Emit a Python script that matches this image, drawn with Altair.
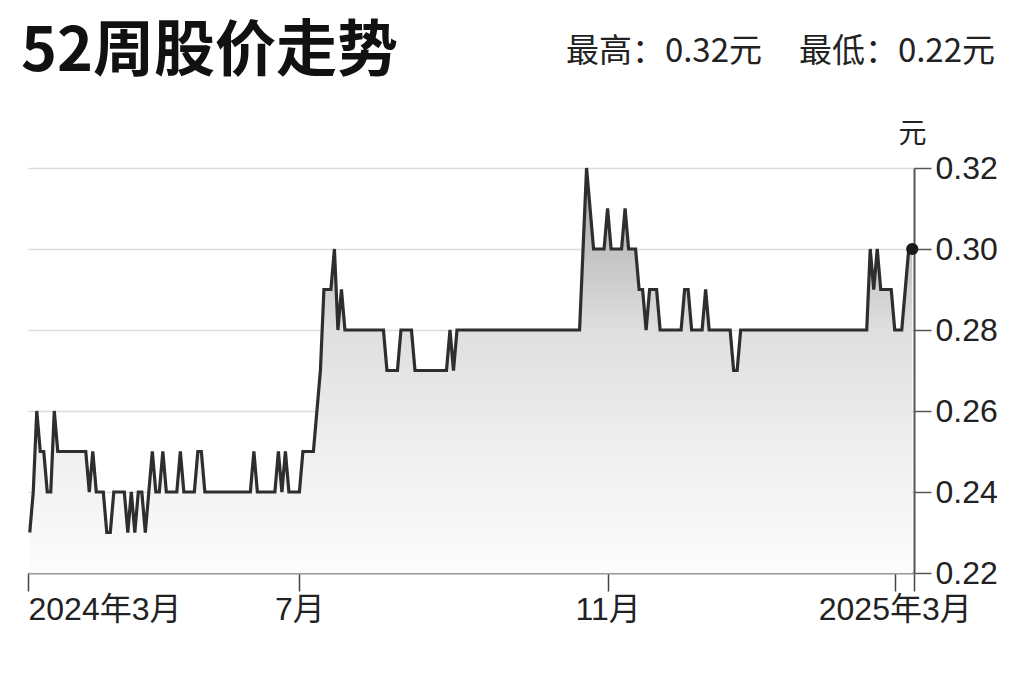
import altair as alt
import pandas as pd

# daily closing prices (yuan)
prices = [
    0.23, 0.24, 0.26, 0.25, 0.25, 0.24, 0.24, 0.26, 0.25, 0.25,
    0.25, 0.25, 0.25, 0.25, 0.25, 0.25, 0.25, 0.24, 0.25, 0.24,
    0.24, 0.24, 0.23, 0.23, 0.24, 0.24, 0.24, 0.24, 0.23, 0.24,
    0.23, 0.24, 0.24, 0.23, 0.24, 0.25, 0.24, 0.24, 0.25, 0.24,
    0.24, 0.24, 0.24, 0.25, 0.24, 0.24, 0.24, 0.24, 0.25, 0.25,
    0.24, 0.24, 0.24, 0.24, 0.24, 0.24, 0.24, 0.24, 0.24, 0.24,
    0.24, 0.24, 0.24, 0.24, 0.25, 0.24, 0.24, 0.24, 0.24, 0.24,
    0.24, 0.25, 0.24, 0.25, 0.24, 0.24, 0.24, 0.24, 0.25, 0.25,
    0.25, 0.25, 0.26, 0.27, 0.29, 0.29, 0.29, 0.30, 0.28, 0.29,
    0.28, 0.28, 0.28, 0.28, 0.28, 0.28, 0.28, 0.28, 0.28, 0.28,
    0.28, 0.28, 0.27, 0.27, 0.27, 0.27, 0.28, 0.28, 0.28, 0.28,
    0.27, 0.27, 0.27, 0.27, 0.27, 0.27, 0.27, 0.27, 0.27, 0.27,
    0.28, 0.27, 0.28, 0.28, 0.28, 0.28, 0.28, 0.28, 0.28, 0.28,
    0.28, 0.28, 0.28, 0.28, 0.28, 0.28, 0.28, 0.28, 0.28, 0.28,
    0.28, 0.28, 0.28, 0.28, 0.28, 0.28, 0.28, 0.28, 0.28, 0.28,
    0.28, 0.28, 0.28, 0.28, 0.28, 0.28, 0.28, 0.28, 0.30, 0.32,
    0.31, 0.30, 0.30, 0.30, 0.30, 0.31, 0.30, 0.30, 0.30, 0.30,
    0.31, 0.30, 0.30, 0.30, 0.29, 0.29, 0.28, 0.29, 0.29, 0.29,
    0.28, 0.28, 0.28, 0.28, 0.28, 0.28, 0.28, 0.29, 0.29, 0.28,
    0.28, 0.28, 0.28, 0.29, 0.28, 0.28, 0.28, 0.28, 0.28, 0.28,
    0.28, 0.27, 0.27, 0.28, 0.28, 0.28, 0.28, 0.28, 0.28, 0.28,
    0.28, 0.28, 0.28, 0.28, 0.28, 0.28, 0.28, 0.28, 0.28, 0.28,
    0.28, 0.28, 0.28, 0.28, 0.28, 0.28, 0.28, 0.28, 0.28, 0.28,
    0.28, 0.28, 0.28, 0.28, 0.28, 0.28, 0.28, 0.28, 0.28, 0.28,
    0.30, 0.29, 0.30, 0.29, 0.29, 0.29, 0.29, 0.28, 0.28, 0.28,
    0.29, 0.30, 0.30,
]

# x-axis ticks (trading-day index) and their labels
tick_idx = [-0.5, 77, 165, 247, 252.5]
tick_labels = ["2024年3月", "7月", "11月", "2025年3月", ""]
y_ticks = [0.22, 0.24, 0.26, 0.28, 0.30, 0.32]

title_text = "52周股价走势"
high_price = 0.32
low_price = 0.22
unit = "元"

df = pd.DataFrame({"idx": list(range(len(prices))), "price": prices})
last = df.iloc[[-1]]

label_expr = " : ".join(
    f"datum.value == {v} ? '{l}'" for v, l in zip(tick_idx, tick_labels)
) + " : ''"

FONT = "Liberation Sans, Noto Sans CJK SC, sans-serif"
CJK = "Noto Sans CJK SC, sans-serif"

x_scale = alt.Scale(domain=[tick_idx[0], tick_idx[-1]], nice=False, zero=False)
y_scale = alt.Scale(domain=[y_ticks[0], y_ticks[-1]], nice=False, zero=False)

x_enc = alt.X(
    "idx:Q",
    scale=x_scale,
    axis=alt.Axis(
        values=tick_idx, labelExpr=label_expr, title=None, grid=False,
        domainColor="#9a9a9a", domainWidth=2,
        tickColor="#444444", tickWidth=1.5, tickSize=18,
        labelFontSize=32, labelFont=FONT, labelColor="#222222",
        labelPadding=3, labelFlush=True, labelOverlap=False,
    ),
)
y_enc = alt.Y(
    "price:Q",
    scale=y_scale,
    axis=alt.Axis(
        orient="right", values=y_ticks, format=".2f",
        title=unit, titleAngle=0, titleX=-2, titleY=-34,
        titleAlign="center", titleBaseline="middle",
        titleFontSize=28, titleFont=CJK, titleFontWeight="normal",
        titleColor="#222222",
        grid=True, gridColor="#dcdcdc", gridWidth=1.5,
        domainColor="#555555", domainWidth=2,
        tickColor="#555555", tickWidth=1.5, tickSize=17,
        labelFontSize=32, labelFont=FONT, labelColor="#222222",
        labelPadding=4,
    ),
)

gradient = alt.Gradient(
    gradient="linear",
    stops=[
        alt.GradientStop(color="#a6a6a6", offset=0),
        alt.GradientStop(color="#c2c2c2", offset=0.2),
        alt.GradientStop(color="#dfdfdf", offset=0.4),
        alt.GradientStop(color="#efefef", offset=0.7),
        alt.GradientStop(color="#fcfcfc", offset=1),
    ],
    x1=1, x2=1, y1=0, y2=1,
)

base = alt.Chart(df)

area = base.mark_area(color=gradient, line=False).encode(
    x=x_enc, y=y_enc, y2=alt.datum(y_ticks[0])
)
line = base.mark_line(color="#2e2e2e", strokeWidth=3.2, strokeJoin="miter").encode(
    x="idx:Q", y="price:Q"
)
dot = alt.Chart(last).mark_circle(size=150, color="#1a1a1a", opacity=1).encode(
    x="idx:Q", y="price:Q"
)

hi_text = alt.Chart(pd.DataFrame({"t": [f"最高：{high_price:.2f}元"]})).mark_text(
    align="right", baseline="middle", fontSize=33, font=CJK, color="#222222"
).encode(x=alt.value(734), y=alt.value(-116), text="t:N")
lo_text = alt.Chart(pd.DataFrame({"t": [f"最低：{low_price:.2f}元"]})).mark_text(
    align="right", baseline="middle", fontSize=33, font=CJK, color="#222222"
).encode(x=alt.value(967), y=alt.value(-116), text="t:N")

chart = alt.layer(area, line, dot, hi_text, lo_text).properties(
    width=886,
    height=405,
    padding={"left": 20, "top": 160, "right": 90, "bottom": 70},
    autosize=alt.AutoSizeParams(type="none"),
    background="white",
    title=alt.TitleParams(
        title_text, anchor="start", frame="group", fontSize=61, font=CJK,
        fontWeight="bold", color="#111111", dx=-7, offset=-48,
    ),
).configure_view(stroke=None)

chart.save("out.html", embed_options={"renderer": "svg", "actions": False})
